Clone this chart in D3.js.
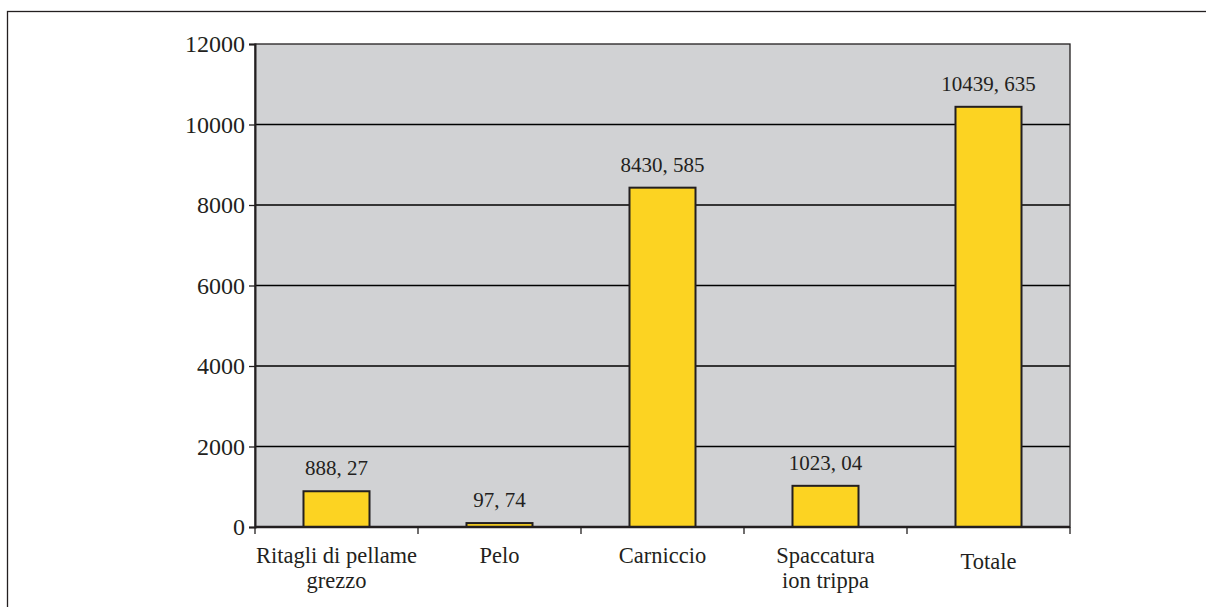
<!DOCTYPE html>
<html>
<head>
<meta charset="utf-8">
<script src="https://cdn.jsdelivr.net/npm/d3@7"></script>
<style>
  html, body { margin: 0; padding: 0; background: #ffffff; }
  svg { display: block; }
  text { font-family: "Liberation Serif", "Times New Roman", "DejaVu Serif", serif; fill: #231f20; }
</style>
</head>
<body>
<svg id="chart" width="1206" height="607"></svg>
<script>
// ---- data ----
const categories = ["Ritagli di pellame|grezzo", "Pelo", "Carniccio", "Spaccatura|ion trippa", "Totale"];
const values = [888.27, 97.74, 8430.585, 1023.04, 10439.635];
const valueLabels = ["888, 27", "97, 74", "8430, 585", "1023, 04", "10439, 635"];
const yTicks = [0, 2000, 4000, 6000, 8000, 10000, 12000];

// ---- layout ----
const svg = d3.select("#chart");
const plot = { left: 255, right: 1070, top: 44, bottom: 527 };
const ink = "#231f20";
const serif = '"Liberation Serif", "Times New Roman", "DejaVu Serif", serif';

// outer frame
svg.append("rect")
  .attr("x", 7.5).attr("y", 11.5)
  .attr("width", 1220).attr("height", 620)
  .attr("fill", "none").attr("stroke", ink).attr("stroke-width", 1.3);

const x = d3.scaleBand()
  .domain(categories)
  .range([plot.left, plot.right])
  .paddingInner(0.595)
  .paddingOuter(0.2975);

const y = d3.scaleLinear()
  .domain([0, 12000])
  .range([plot.bottom, plot.top]);

// plot background
svg.append("rect")
  .attr("x", plot.left).attr("y", plot.top)
  .attr("width", plot.right - plot.left).attr("height", plot.bottom - plot.top)
  .attr("fill", "#d1d2d4");

// gridlines
svg.append("g").selectAll("line")
  .data(yTicks.filter(d => d > 0 && d < 12000))
  .join("line")
  .attr("x1", plot.left).attr("x2", plot.right)
  .attr("y1", d => y(d)).attr("y2", d => y(d))
  .attr("stroke", "#000").attr("stroke-width", 1.5);

// plot border
svg.append("rect")
  .attr("x", plot.left).attr("y", plot.top)
  .attr("width", plot.right - plot.left).attr("height", plot.bottom - plot.top)
  .attr("fill", "none").attr("stroke", ink).attr("stroke-width", 1.3);

// bars
svg.append("g").selectAll("rect")
  .data(values)
  .join("rect")
  .attr("x", (d, i) => x(categories[i]))
  .attr("y", d => y(d))
  .attr("width", x.bandwidth())
  .attr("height", d => y(0) - y(d))
  .attr("fill", "#fcd322")
  .attr("stroke", ink).attr("stroke-width", 2);

// value labels
svg.append("g").selectAll("text")
  .data(values)
  .join("text")
  .attr("x", (d, i) => x(categories[i]) + x.bandwidth() / 2)
  .attr("y", d => y(d) - 16)
  .attr("text-anchor", "middle")
  .attr("font-family", serif)
  .attr("font-size", 21)
  .text((d, i) => valueLabels[i]);

// y axis
const yAxis = d3.axisLeft(y).tickValues(yTicks).tickSize(6).tickPadding(4).tickFormat(d3.format("d"));
const gy = svg.append("g").attr("transform", `translate(${plot.left},0)`).call(yAxis);
gy.attr("font-family", serif);
gy.select(".domain").attr("stroke", ink).attr("stroke-width", 2);
gy.selectAll(".tick line").attr("stroke", ink).attr("stroke-width", 1.3);
gy.selectAll(".tick text")
  .attr("font-family", serif)
  .attr("font-size", 24).attr("fill", ink);

// x axis baseline
svg.append("line")
  .attr("x1", plot.left).attr("x2", plot.right)
  .attr("y1", y(0)).attr("y2", y(0))
  .attr("stroke", ink).attr("stroke-width", 2.5);

// x ticks at category boundaries
const step = x.step();
const bounds = d3.range(categories.length + 1).map(i => plot.left + i * step);
svg.append("g").selectAll("line")
  .data(bounds)
  .join("line")
  .attr("x1", d => d).attr("x2", d => d)
  .attr("y1", y(0)).attr("y2", y(0) + 7)
  .attr("stroke", ink).attr("stroke-width", 1.3);

// category labels
const cl = svg.append("g").selectAll("text")
  .data(categories)
  .join("text")
  .attr("x", d => x(d) + x.bandwidth() / 2)
  .attr("y", (d, i) => i === categories.length - 1 ? 569 : 563)
  .attr("text-anchor", "middle")
  .attr("font-family", serif)
  .attr("font-size", 22.5);
cl.each(function(d) {
  const parts = d.split("|");
  const t = d3.select(this);
  parts.forEach((p, j) => {
    t.append("tspan")
      .attr("x", t.attr("x"))
      .attr("dy", j === 0 ? 0 : 25)
      .text(p);
  });
});
</script>
</body>
</html>
